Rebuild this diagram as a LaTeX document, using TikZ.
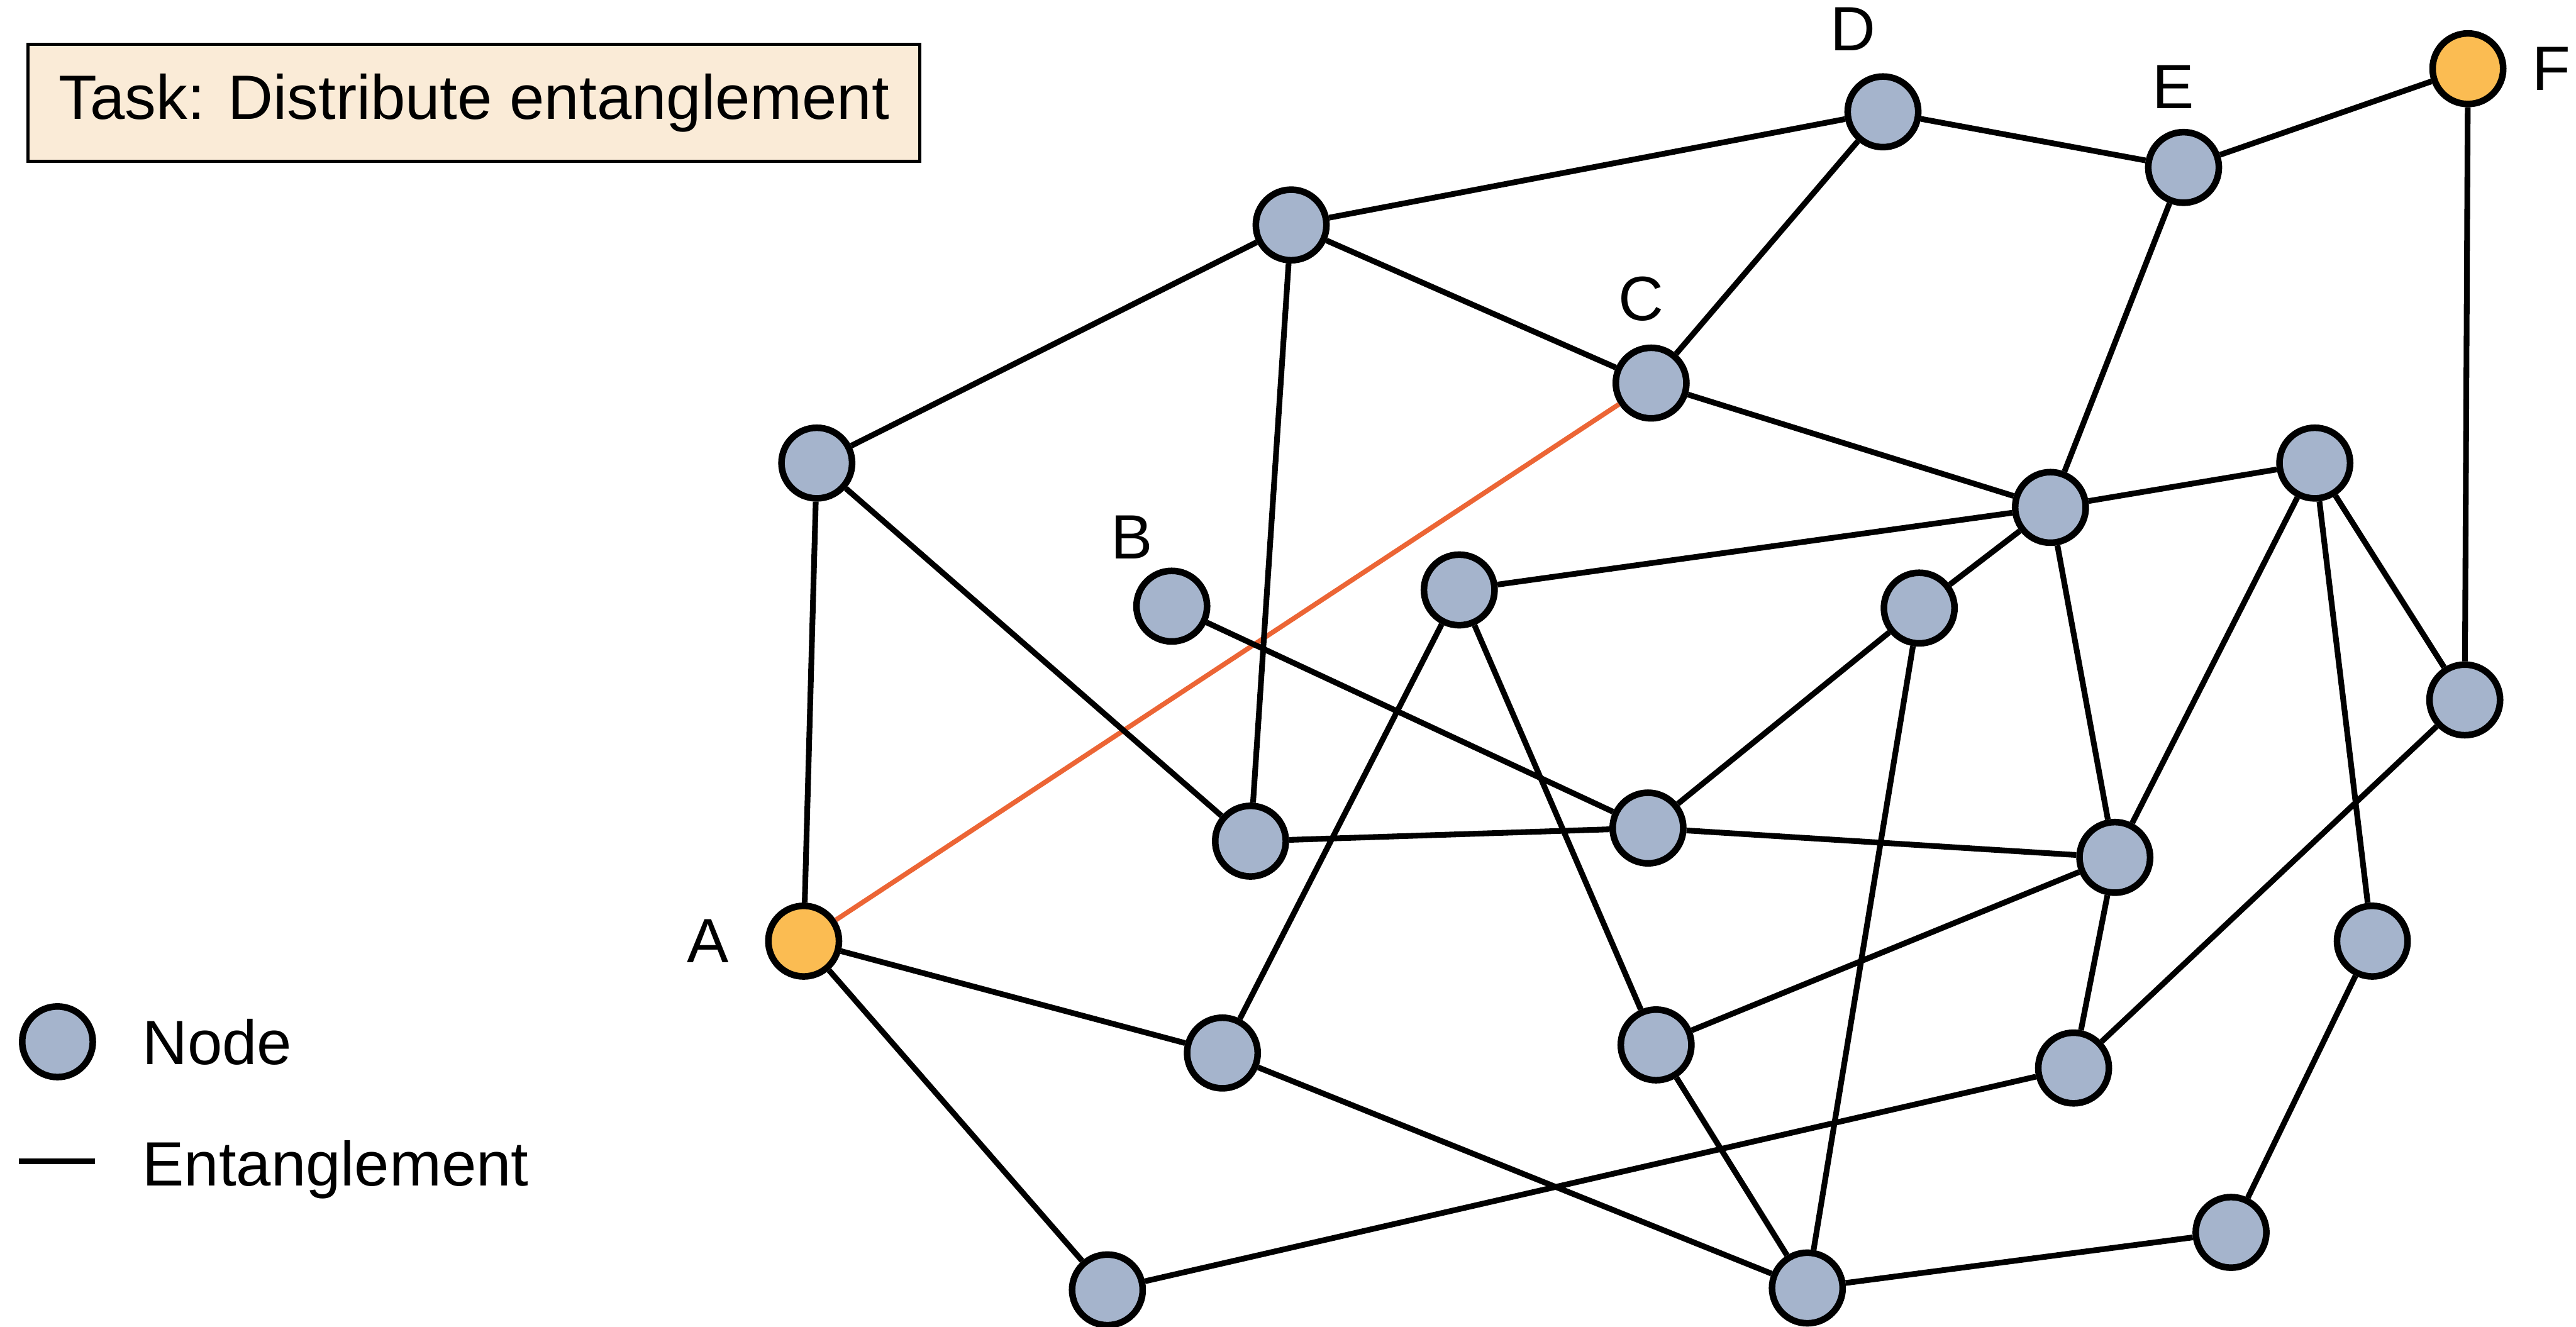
\documentclass[tikz,border=0pt]{standalone}
\usepackage{fontspec}
\setmainfont{Liberation Sans}
\usetikzlibrary{positioning}
\definecolor{nodeblue}{HTML}{A5B4CC}
\definecolor{endorange}{HTML}{FBBC52}
\definecolor{pathred}{HTML}{EC6535}
\definecolor{taskbg}{HTML}{FAEBD7}

\begin{document}
\begin{tikzpicture}[
  qnode/.style={circle, draw, line width=3pt, fill=nodeblue, minimum size=1.13cm, inner sep=0pt},
  endnode/.style={qnode, fill=endorange},
  link/.style={line width=2.6pt},
  lbl/.style={font=\fontsize{28.5}{34}\selectfont, inner sep=0pt}
]
\useasboundingbox (0,0) rectangle (41.22,21.23);

% task box
\node[draw, line width=1.3pt, fill=taskbg, minimum width=14.27cm, minimum height=1.87cm, lbl](task) at (7.585,19.585) {Task: Distribute entanglement};

% network
\node[endnode](a) at (12.86,6.17) {};
\node[endnode](f) at (39.49,20.13) {};
\node[qnode](b) at (18.75,11.53) {};
\node[qnode](c) at (26.42,15.10) {};
\node[qnode](d) at (30.13,19.44) {};
\node[qnode](e) at (34.94,18.55) {};
\node[qnode](n1) at (20.66,17.63) {};
\node[qnode](n2) at (13.07,13.82) {};
\node[qnode](n3) at (23.35,11.79) {};
\node[qnode](n4) at (30.71,11.50) {};
\node[qnode](n5) at (32.81,13.11) {};
\node[qnode](n6) at (37.04,13.82) {};
\node[qnode](n7) at (39.44,10.03) {};
\node[qnode](n8) at (20.01,7.77) {};
\node[qnode](n9) at (26.37,7.98) {};
\node[qnode](n10) at (33.84,7.51) {};
\node[qnode](n11) at (37.96,6.17) {};
\node[qnode](n12) at (19.56,4.38) {};
\node[qnode](n13) at (26.50,4.51) {};
\node[qnode](n14) at (33.18,4.14) {};
\node[qnode](n15) at (35.70,1.51) {};
\node[qnode](n16) at (17.72,0.59) {};
\node[qnode](n17) at (28.92,0.62) {};

\node[lbl](la) at ([xshift=-1.53cm]a) {A};
\node[lbl](lb) at ([xshift=-0.64cm, yshift=1.10cm]b) {B};
\node[lbl](lc) at ([xshift=-0.16cm, yshift=1.35cm]c) {C};
\node[lbl](ld) at ([xshift=-0.48cm, yshift=1.32cm]d) {D};
\node[lbl](le) at ([xshift=-0.16cm, yshift=1.29cm]e) {E};
\node[lbl](lf) at ([xshift=1.34cm]f) {F};

\draw[line width=2.2pt, pathred] (a) -- (c);
\draw[link] (n1) -- (d) (d) -- (e) (e) -- (f) (n2) -- (n1) (n1) -- (c) (n1) -- (n8)
  (d) -- (c) (c) -- (n5) (n2) -- (a) (n2) -- (n8) (e) -- (n5) (f) -- (n7)
  (n5) -- (n6) (n5) -- (n3) (n5) -- (n4) (n5) -- (n10) (n6) -- (n7) (n6) -- (n10)
  (n6) -- (n11) (b) -- (n9) (n3) -- (n12) (n3) -- (n13) (n4) -- (n9) (n4) -- (n17)
  (n8) -- (n9) (n9) -- (n10) (n10) -- (n13) (n10) -- (n14) (n7) -- (n14)
  (a) -- (n12) (a) -- (n16) (n12) -- (n17) (n13) -- (n17) (n16) -- (n14)
  (n17) -- (n15) (n15) -- (n11);

% legend
\node[qnode](key) at (0.92,4.56) {};
\node[lbl, anchor=base west](keytext) at (2.27,4.20) {Node};
\coordinate (l1) at (0.30,2.65);
\coordinate (l2) at (1.52,2.65);
\draw[link] (l1) -- (l2);
\node[lbl, anchor=base west](linetext) at (2.27,2.26) {Entanglement};
\end{tikzpicture}
\end{document}
